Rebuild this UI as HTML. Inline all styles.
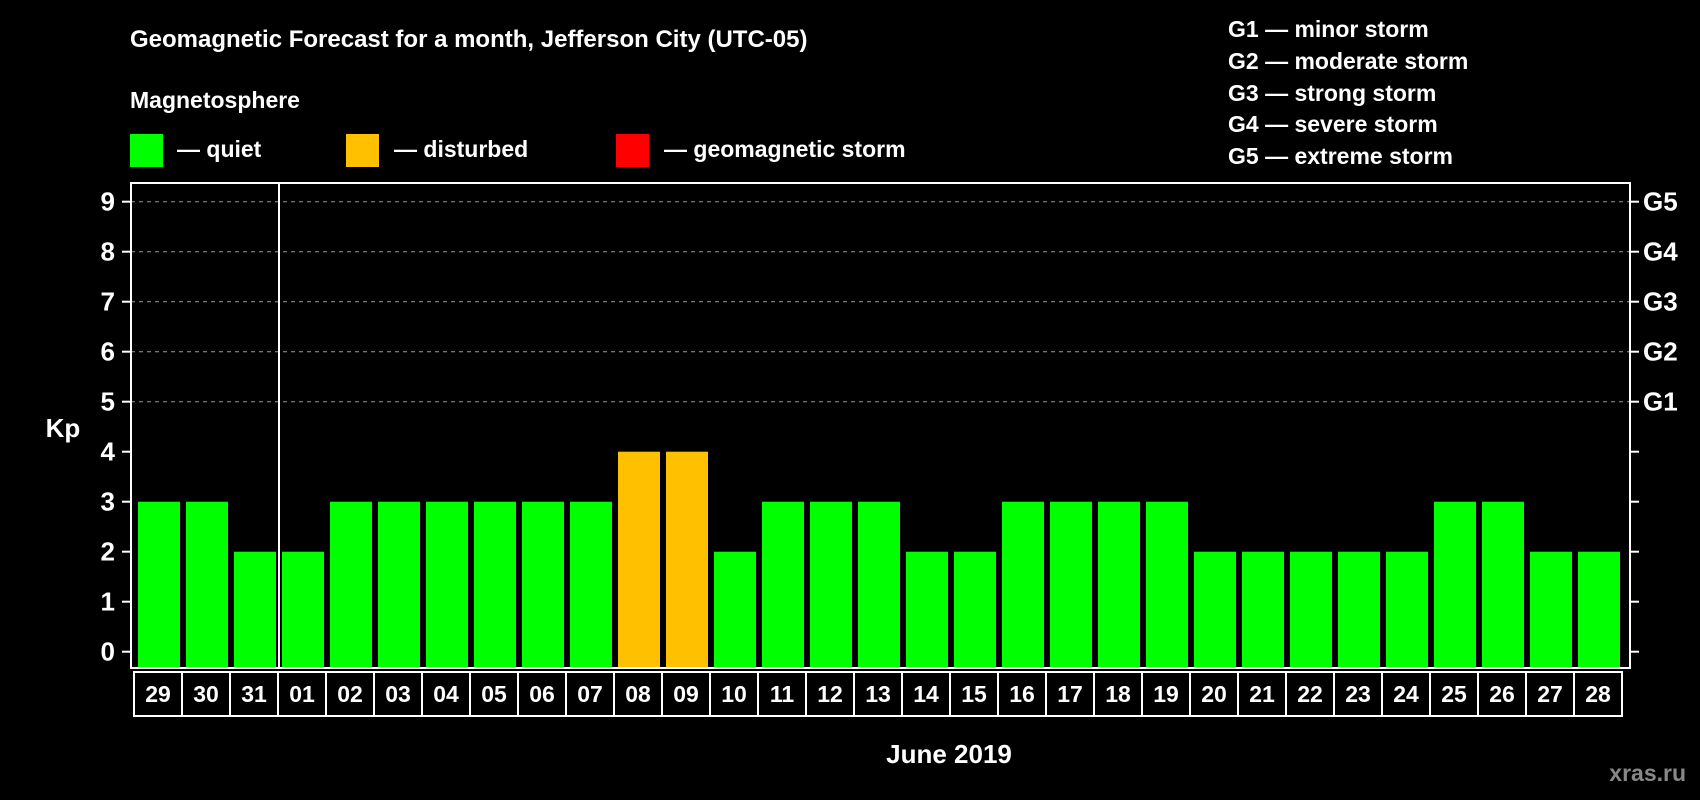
<!DOCTYPE html>
<html><head><meta charset="utf-8"><style>
html,body{margin:0;padding:0;background:#000;}
svg{display:block;font-family:"Liberation Sans",sans-serif;font-weight:bold;}
</style></head><body>
<svg id="chart" width="1700" height="800" viewBox="0 0 1700 800" xmlns="http://www.w3.org/2000/svg">
<rect width="1700" height="800" fill="#000"/>
<text x="130" y="47" fill="#fff" font-size="24">Geomagnetic Forecast for a month, Jefferson City (UTC-05)</text>
<text x="130" y="108" fill="#fff" font-size="23">Magnetosphere</text>
<rect x="130" y="134" width="33" height="33" fill="#00ff00"/>
<text x="177" y="157" fill="#fff" font-size="23">— quiet</text>
<rect x="346" y="134" width="33" height="33" fill="#ffc000"/>
<text x="394" y="157" fill="#fff" font-size="23">— disturbed</text>
<rect x="616" y="134" width="33" height="33" fill="#ff0000"/>
<text x="664" y="157" fill="#fff" font-size="23">— geomagnetic storm</text>
<g fill="#fff" font-size="23">
<text x="1228" y="37">G1 — minor storm</text>
<text x="1228" y="69">G2 — moderate storm</text>
<text x="1228" y="101">G3 — strong storm</text>
<text x="1228" y="132">G4 — severe storm</text>
<text x="1228" y="164">G5 — extreme storm</text>
</g>
<text x="63" y="437" fill="#fff" font-size="26" text-anchor="middle">Kp</text>
<g id="grid"></g>
<g id="bars"></g>
<rect x="131" y="183" width="1499" height="485" fill="none" stroke="#fff" stroke-width="2"/>
<line x1="279" y1="183" x2="279" y2="668" stroke="#fff" stroke-width="2"/>
<g id="cats"></g>
<text x="949" y="763" fill="#fff" font-size="26" text-anchor="middle">June 2019</text>
<text x="1686" y="781" fill="#888" font-size="23" text-anchor="end">xras.ru</text>
</svg>
<script>
const categories = ["29","30","31","01","02","03","04","05","06","07","08","09","10","11","12","13","14","15","16","17","18","19","20","21","22","23","24","25","26","27","28"];
const kpValues = [3,3,2,2,3,3,3,3,3,3,4,4,2,3,3,3,2,2,3,3,3,3,2,2,2,2,2,3,3,2,2];
const yTicks = [0,1,2,3,4,5,6,7,8,9];
const gLabels = ["G1","G2","G3","G4","G5"];
const NS="http://www.w3.org/2000/svg";
const yOf = v => 651.7 - 50*v;
const xOf = i => 134 + 48*i;
const bottom = 668;
function mk(tag, attrs, parent){const e=document.createElementNS(NS,tag);for(const k in attrs)e.setAttribute(k,attrs[k]);parent.appendChild(e);return e;}
const grid=document.getElementById('grid'), bars=document.getElementById('bars'), cats=document.getElementById('cats');
yTicks.forEach(v=>{
  const y=yOf(v);
  if(v>=5){const l=mk('line',{x1:131,x2:1630,y1:y,y2:y,stroke:'#999','stroke-dasharray':'4,4','stroke-width':1},grid);
    
    }
  mk('line',{x1:122,x2:131,y1:y,y2:y,stroke:'#fff','stroke-width':2},grid);
  mk('line',{x1:1630,x2:1639,y1:y,y2:y,stroke:'#fff','stroke-width':2},grid);
  const t=mk('text',{x:115,y:y+9,fill:'#fff','font-size':26,'text-anchor':'end'},grid);
  t.textContent=v;
  
  
  if(v>=5){const g=mk('text',{x:1643,y:y+9,fill:'#fff','font-size':26},grid);
    g.textContent=gLabels[v-5];
    
    }
});
categories.forEach((c,i)=>{
  const v=kpValues[i];
  const r=mk('rect',{x:xOf(i)+4,y:yOf(v),width:42,height:bottom-yOf(v),fill:v>=5?'#ff0000':(v>=4?'#ffc000':'#00ff00')},bars);
  
  
  const b=mk('rect',{x:xOf(i),y:672,width:48,height:44,fill:'none',stroke:'#fff','stroke-width':2},cats);
  
  
  const t=mk('text',{x:xOf(i)+24,y:702,fill:'#fff','font-size':23,'text-anchor':'middle'},cats);
  t.textContent=c;
  
  
});
</script>
</body></html>
